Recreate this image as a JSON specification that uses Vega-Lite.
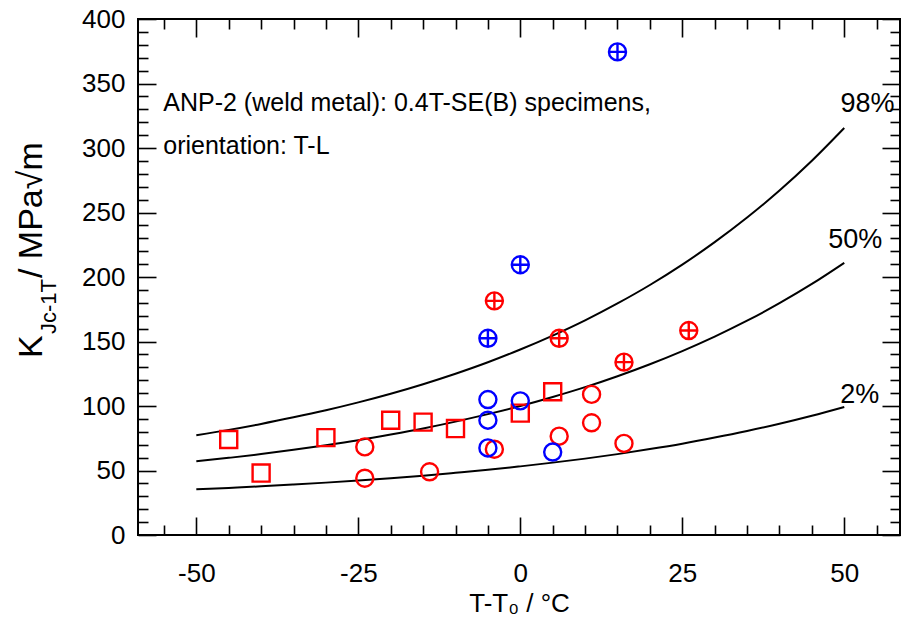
{
  "$schema": "https://vega.github.io/schema/vega-lite/v6.json",
  "width": 762,
  "height": 516,
  "autosize": {"type": "none"},
  "padding": {"left": 138, "top": 19, "right": 1, "bottom": 94},
  "background": "white",
  "config": {
    "view": {"stroke": "black", "strokeWidth": 2},
    "font": "Liberation Sans",
    "axis": {
      "grid": false,
      "domain": false,
      "labelFont": "Liberation Sans",
      "labelFontSize": 26,
      "labelColor": "black",
      "tickColor": "black",
      "tickWidth": 1.6,
      "titleFont": "Liberation Sans",
      "titleFontSize": 26,
      "titleFontWeight": "normal",
      "titleColor": "black"
    }
  },
  "datasets": {
    "curves": [
      {"T": -50, "K": 77.4, "p": "98%"}, {"T": -45, "K": 81.5, "p": "98%"}, {"T": -40, "K": 86.1, "p": "98%"},
      {"T": -35, "K": 91.2, "p": "98%"}, {"T": -30, "K": 96.7, "p": "98%"}, {"T": -25, "K": 102.8, "p": "98%"},
      {"T": -20, "K": 109.5, "p": "98%"}, {"T": -15, "K": 116.9, "p": "98%"}, {"T": -10, "K": 125.0, "p": "98%"},
      {"T": -5, "K": 133.9, "p": "98%"}, {"T": 0, "K": 143.8, "p": "98%"}, {"T": 5, "K": 154.6, "p": "98%"},
      {"T": 10, "K": 166.4, "p": "98%"}, {"T": 15, "K": 179.5, "p": "98%"}, {"T": 20, "K": 193.8, "p": "98%"},
      {"T": 25, "K": 209.6, "p": "98%"}, {"T": 30, "K": 227.0, "p": "98%"}, {"T": 35, "K": 246.1, "p": "98%"},
      {"T": 40, "K": 267.0, "p": "98%"}, {"T": 45, "K": 290.1, "p": "98%"}, {"T": 50, "K": 315.5, "p": "98%"},
      {"T": -50, "K": 57.1, "p": "50%"}, {"T": -45, "K": 59.8, "p": "50%"}, {"T": -40, "K": 62.7, "p": "50%"},
      {"T": -35, "K": 66.0, "p": "50%"}, {"T": -30, "K": 69.6, "p": "50%"}, {"T": -25, "K": 73.5, "p": "50%"},
      {"T": -20, "K": 77.9, "p": "50%"}, {"T": -15, "K": 82.6, "p": "50%"}, {"T": -10, "K": 87.9, "p": "50%"},
      {"T": -5, "K": 93.7, "p": "50%"}, {"T": 0, "K": 100.0, "p": "50%"}, {"T": 5, "K": 107.0, "p": "50%"},
      {"T": 10, "K": 114.6, "p": "50%"}, {"T": 15, "K": 123.1, "p": "50%"}, {"T": 20, "K": 132.4, "p": "50%"},
      {"T": 25, "K": 142.6, "p": "50%"}, {"T": 30, "K": 153.8, "p": "50%"}, {"T": 35, "K": 166.1, "p": "50%"},
      {"T": 40, "K": 179.7, "p": "50%"}, {"T": 45, "K": 194.6, "p": "50%"}, {"T": 50, "K": 211.0, "p": "50%"},
      {"T": -50, "K": 35.4, "p": "2%"}, {"T": -45, "K": 36.5, "p": "2%"}, {"T": -40, "K": 37.7, "p": "2%"},
      {"T": -35, "K": 39.1, "p": "2%"}, {"T": -30, "K": 40.6, "p": "2%"}, {"T": -25, "K": 42.2, "p": "2%"},
      {"T": -20, "K": 44.0, "p": "2%"}, {"T": -15, "K": 46.0, "p": "2%"}, {"T": -10, "K": 48.2, "p": "2%"},
      {"T": -5, "K": 50.5, "p": "2%"}, {"T": 0, "K": 53.2, "p": "2%"}, {"T": 5, "K": 56.1, "p": "2%"},
      {"T": 10, "K": 59.2, "p": "2%"}, {"T": 15, "K": 62.7, "p": "2%"}, {"T": 20, "K": 66.6, "p": "2%"},
      {"T": 25, "K": 70.8, "p": "2%"}, {"T": 30, "K": 75.5, "p": "2%"}, {"T": 35, "K": 80.6, "p": "2%"},
      {"T": 40, "K": 86.2, "p": "2%"}, {"T": 45, "K": 92.4, "p": "2%"}, {"T": 50, "K": 99.2, "p": "2%"}
    ],
    "points": [
      {"T": -45, "K": 74.0, "group": "red", "kind": "square"},
      {"T": -40, "K": 48.0, "group": "red", "kind": "square"},
      {"T": -30, "K": 75.5, "group": "red", "kind": "square"},
      {"T": -20, "K": 89.0, "group": "red", "kind": "square"},
      {"T": -15, "K": 87.5, "group": "red", "kind": "square"},
      {"T": -10, "K": 82.5, "group": "red", "kind": "square"},
      {"T": 0, "K": 94.5, "group": "red", "kind": "square"},
      {"T": 5, "K": 111.0, "group": "red", "kind": "square"},
      {"T": -24, "K": 68.3, "group": "red", "kind": "circle"},
      {"T": -24, "K": 44.0, "group": "red", "kind": "circle"},
      {"T": -14, "K": 49.0, "group": "red", "kind": "circle"},
      {"T": -4, "K": 66.5, "group": "red", "kind": "circle"},
      {"T": 6, "K": 76.6, "group": "red", "kind": "circle"},
      {"T": 11, "K": 109.0, "group": "red", "kind": "circle"},
      {"T": 11, "K": 87.0, "group": "red", "kind": "circle"},
      {"T": 16, "K": 71.0, "group": "red", "kind": "circle"},
      {"T": -4, "K": 181.5, "group": "red", "kind": "censored"},
      {"T": 6, "K": 152.5, "group": "red", "kind": "censored"},
      {"T": 16, "K": 134.0, "group": "red", "kind": "censored"},
      {"T": 26, "K": 158.5, "group": "red", "kind": "censored"},
      {"T": -5, "K": 105.0, "group": "blue", "kind": "circle"},
      {"T": -5, "K": 89.0, "group": "blue", "kind": "circle"},
      {"T": -5, "K": 67.5, "group": "blue", "kind": "circle"},
      {"T": 0, "K": 104.0, "group": "blue", "kind": "circle"},
      {"T": 5, "K": 64.3, "group": "blue", "kind": "circle"},
      {"T": -5, "K": 152.5, "group": "blue", "kind": "censored"},
      {"T": 0, "K": 209.5, "group": "blue", "kind": "censored"},
      {"T": 15, "K": 374.5, "group": "blue", "kind": "censored"}
    ],
    "curveLabels": [
      {"label": "98%", "T": 53.6, "K": 327.7},
      {"label": "50%", "T": 51.7, "K": 222.5},
      {"label": "2%", "T": 52.4, "K": 102.1}
    ],
    "note": [
      {"line": "ANP-2 (weld metal): 0.4T-SE(B) specimens,", "T": -55.1, "K": 328.7},
      {"line": "orientation: T-L", "T": -55.1, "K": 295.5}
    ]
  },
  "layer": [
    {
      "data": {"name": "curves"},
      "mark": {"type": "line", "color": "black", "strokeWidth": 2, "interpolate": "monotone"},
      "encoding": {
        "x": {"field": "T", "type": "quantitative", "scale": {"domain": [-59, 58.6], "nice": false, "zero": false},
          "axis": {"orient": "bottom", "values": [-50, -25, 0, 25, 50], "labelExpr": "'' + datum.value", "tickSize": -18, "labelPadding": 43, "title": "T-T₀ / °C", "titlePadding": 4}},
        "y": {"field": "K", "type": "quantitative", "scale": {"domain": [0, 400], "nice": false},
          "axis": {"orient": "left", "values": [0, 50, 100, 150, 200, 250, 300, 350, 400], "tickSize": -18, "labelPadding": 31, "title": null}},
        "detail": {"field": "p"}
      }
    },
    {
      "data": {"name": "points"},
      "mark": {"type": "point", "filled": false, "strokeWidth": 2.4, "size": 290, "opacity": 1},
      "encoding": {
        "x": {"field": "T", "type": "quantitative", "scale": {"domain": [-59, 58.6], "nice": false, "zero": false},
          "axis": {"orient": "bottom", "values": [-55, -45, -40, -35, -30, -20, -15, -10, -5, 5, 10, 15, 20, 30, 35, 40, 45, 55], "tickSize": -10, "labels": false, "title": null}},
        "y": {"field": "K", "type": "quantitative", "scale": {"domain": [0, 400], "nice": false},
          "axis": {"orient": "left", "values": [10, 20, 30, 40, 60, 70, 80, 90, 110, 120, 130, 140, 160, 170, 180, 190, 210, 220, 230, 240, 260, 270, 280, 290, 310, 320, 330, 340, 360, 370, 380, 390], "tickSize": -10, "labels": false, "title": null}},
        "color": {"field": "group", "type": "nominal", "scale": {"domain": ["red", "blue"], "range": ["#ff0000", "#0000ff"]}, "legend": null},
        "shape": {"field": "kind", "type": "nominal", "scale": {"domain": ["square", "circle", "censored"], "range": ["square", "circle", "M-1,0A1,1,0,1,1,1,0A1,1,0,1,1,-1,0ZM-1,0L1,0M0,-1L0,1"]}, "legend": null}
      }
    },
    {
      "data": {"name": "curveLabels"},
      "mark": {"type": "text", "fontSize": 27, "align": "center", "baseline": "alphabetic", "color": "black"},
      "encoding": {
        "x": {"field": "T", "type": "quantitative", "scale": {"domain": [-59, 58.6], "nice": false, "zero": false},
          "axis": {"orient": "top", "values": [-50, -25, 0, 25, 50], "tickSize": -18, "labels": false, "title": null}},
        "y": {"field": "K", "type": "quantitative", "scale": {"domain": [0, 400], "nice": false},
          "axis": {"orient": "right", "values": [0, 50, 100, 150, 200, 250, 300, 350, 400], "tickSize": -18, "labels": false, "title": null}},
        "text": {"field": "label"}
      }
    },
    {
      "data": {"name": "note"},
      "mark": {"type": "text", "fontSize": 25, "align": "left", "baseline": "alphabetic", "color": "black"},
      "encoding": {
        "x": {"field": "T", "type": "quantitative", "scale": {"domain": [-59, 58.6], "nice": false, "zero": false},
          "axis": {"orient": "top", "values": [-55, -45, -40, -35, -30, -20, -15, -10, -5, 5, 10, 15, 20, 30, 35, 40, 45, 55], "tickSize": -10, "labels": false, "title": null}},
        "y": {"field": "K", "type": "quantitative", "scale": {"domain": [0, 400], "nice": false},
          "axis": {"orient": "right", "values": [10, 20, 30, 40, 60, 70, 80, 90, 110, 120, 130, 140, 160, 170, 180, 190, 210, 220, 230, 240, 260, 270, 280, 290, 310, 320, 330, 340, 360, 370, 380, 390], "tickSize": -10, "labels": false, "title": null}},
        "text": {"field": "line"}
      }
    },
    {
      "data": {"values": [{"t": "K"}]},
      "mark": {"type": "text", "fontSize": 34, "angle": 270, "align": "left", "baseline": "alphabetic", "dy": -96, "color": "black"},
      "encoding": {
        "x": {"datum": -59, "type": "quantitative", "axis": null},
        "y": {"datum": 137.2, "type": "quantitative", "axis": null},
        "text": {"field": "t"}
      }
    },
    {
      "data": {"values": [{"t": "Jc-1T"}]},
      "mark": {"type": "text", "fontSize": 22, "angle": 270, "align": "left", "baseline": "alphabetic", "dy": -82, "color": "black"},
      "encoding": {
        "x": {"datum": -59, "type": "quantitative", "axis": null},
        "y": {"datum": 155.8, "type": "quantitative", "axis": null},
        "text": {"field": "t"}
      }
    },
    {
      "data": {"values": [{"t": " / MPa√m"}]},
      "mark": {"type": "text", "fontSize": 34, "angle": 270, "align": "left", "baseline": "alphabetic", "dy": -96, "color": "black"},
      "encoding": {
        "x": {"datum": -59, "type": "quantitative", "axis": null},
        "y": {"datum": 199.2, "type": "quantitative", "axis": null},
        "text": {"field": "t"}
      }
    }
  ],
  "resolve": {"axis": {"x": "independent", "y": "independent"}}
}
